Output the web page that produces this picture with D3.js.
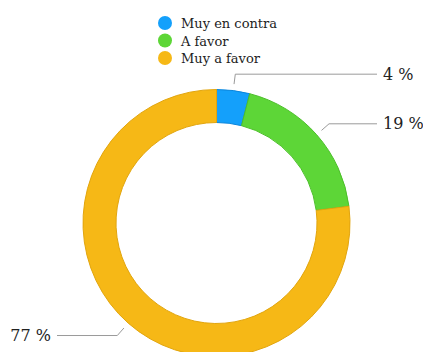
<!DOCTYPE html>
<html>
<head>
<meta charset="utf-8">
<script src="https://cdn.jsdelivr.net/npm/d3@7"></script>
<style>
  html, body { margin: 0; padding: 0; background: #fff; }
  svg { display: block; font-family: "DejaVu Serif", serif; }
</style>
</head>
<body>
<svg id="chart" width="423" height="352"></svg>
<script>
// Survey answers and their shares (%)
const categories = ["Muy en contra", "A favor", "Muy a favor"];
const values = [4, 19, 77];
const labels = ["4 %", "19 %", "77 %"];
const fills = ["#14a0fb", "#5dd637", "#f6b816"];
const strokes = ["#0b86dc", "#4cbf2a", "#e2a50d"];

const svg = d3.select("#chart");
const cx = 216.5, cy = 223;
const outerR = 133.5, innerR = 100.5;

const pie = d3.pie().sort(null).value(d => d)(values);
const arc = d3.arc().innerRadius(innerR).outerRadius(outerR);

const g = svg.append("g").attr("transform", `translate(${cx},${cy})`);

g.selectAll("path.slice")
  .data(pie)
  .join("path")
  .attr("class", "slice")
  .attr("d", arc)
  .attr("fill", (d, i) => fills[i])
  .attr("stroke", (d, i) => strokes[i])
  .attr("stroke-width", 1);

// Leader lines with labels
const startArc = d3.arc().innerRadius(140).outerRadius(140);
const elbowArc = d3.arc().innerRadius(150).outerRadius(150);
const rightEnd = 377 - cx, leftEnd = 57 - cx;

pie.forEach((d, i) => {
  const mid = (d.startAngle + d.endAngle) / 2;
  const p0 = startArc.centroid(d);
  const p1 = elbowArc.centroid(d);
  const right = Math.sin(mid) >= 0;
  const xEnd = right ? rightEnd : leftEnd;
  g.append("polyline")
    .attr("points", [p0, p1, [xEnd, p1[1]]].map(p => p.join(",")).join(" "))
    .attr("fill", "none")
    .attr("stroke", "#9a9a9a")
    .attr("stroke-width", 1);
  g.append("text")
    .attr("x", right ? xEnd + 6 : xEnd - 6)
    .attr("y", p1[1] + 5.5)
    .attr("text-anchor", right ? "start" : "end")
    .attr("font-size", 16)
    .attr("fill", "#222")
    .text(labels[i]);
});

// Legend
const legend = svg.append("g");
const rows = legend.selectAll("g")
  .data(categories)
  .join("g")
  .attr("transform", (d, i) => `translate(165, ${23 + i * 17.5})`);
rows.append("circle")
  .attr("r", 7)
  .attr("fill", (d, i) => fills[i]);
rows.append("text")
  .attr("x", 16)
  .attr("y", 5)
  .attr("font-size", 13)
  .attr("fill", "#222")
  .text(d => d);
</script>
</body>
</html>
